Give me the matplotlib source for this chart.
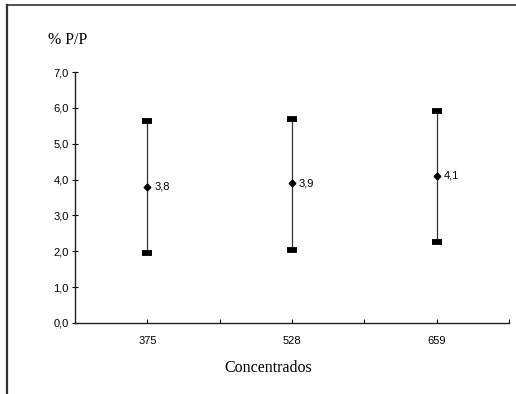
import numpy as np
import matplotlib
matplotlib.use('Agg')
import matplotlib.pyplot as plt
from matplotlib.lines import Line2D
from matplotlib.ticker import FixedLocator, FuncFormatter

# ── Data ───────────────────────────────────────────────────────────────────
categories = ['375', '528', '659']
means = [3.8, 3.9, 4.1]
upper = [5.63, 5.69, 5.91]
lower = [1.96, 2.04, 2.26]
mean_labels = ['3,8', '3,9', '4,1']
y_ticks = [0, 1, 2, 3, 4, 5, 6, 7]

SANS = ['Liberation Sans', 'DejaVu Sans']
SERIF = ['Liberation Serif', 'DejaVu Serif']
plt.rcParams['font.family'] = SANS

fig = plt.figure(figsize=(5.16, 3.94), dpi=100)
W, H = 516, 394

# axes box in pixels: x 75..509, y 323 (0.0) .. 72 (7.0)
x0, x1, y0, y1 = 75, 509, 72, 323
ax = fig.add_axes([x0 / W, 1 - y1 / H, (x1 - x0) / W, (y1 - y0) / H])

x = np.arange(1, len(categories) + 1)
m = np.array(means)
yerr = [m - np.array(lower), np.array(upper) - m]

_, caps, bars = ax.errorbar(x, m, yerr=yerr, fmt='D', color='black', markersize=3.4,
                            ecolor='#333333', elinewidth=0.9, capsize=3.4, capthick=4.2)
for c in caps:
    c.set_markeredgecolor('black')
    c.set_color('black')

for xi, yi, lab in zip(x, means, mean_labels):
    ax.annotate(lab, (xi, yi), xytext=(5, 0), textcoords='offset points',
                va='center', ha='left', fontsize=8, family=SANS)

ax.set_xlim(0.5, 3.5)
ax.set_ylim(0, 7)

for side in ['top', 'right']:
    ax.spines[side].set_visible(False)
for side in ['left', 'bottom']:
    ax.spines[side].set_linewidth(1.0)
    ax.spines[side].set_color('#222222')

ax.yaxis.set_major_locator(FixedLocator(y_ticks))
ax.yaxis.set_major_formatter(FuncFormatter(lambda v, p: f'{v:.1f}'.replace('.', ',')))
ax.tick_params(axis='y', direction='inout', length=5, width=0.8, labelsize=8, pad=2)

ax.set_xticks(x)
ax.set_xticklabels(categories)
ax.xaxis.set_minor_locator(FixedLocator([1.5, 2.5, 3.5]))
ax.tick_params(axis='x', which='both', direction='in', length=3, width=0.8,
               labelsize=8, pad=9)

fig.text(48 / W, 1 - 40 / H, '% P/P', fontsize=11.5, family=SERIF, va='center', ha='left')
fig.text(268 / W, 1 - 368 / H, 'Concentrados', fontsize=11.5, family=SERIF,
         va='center', ha='center')

# outer frame (left and top only visible)
fig.add_artist(Line2D([7 / W, 7 / W], [0, 1 - 5 / H], transform=fig.transFigure,
                      color='#333333', linewidth=1.6))
fig.add_artist(Line2D([7 / W, 1], [1 - 5 / H, 1 - 5 / H], transform=fig.transFigure,
                      color='#333333', linewidth=1.2))

fig.savefig('out.png', dpi=100)
